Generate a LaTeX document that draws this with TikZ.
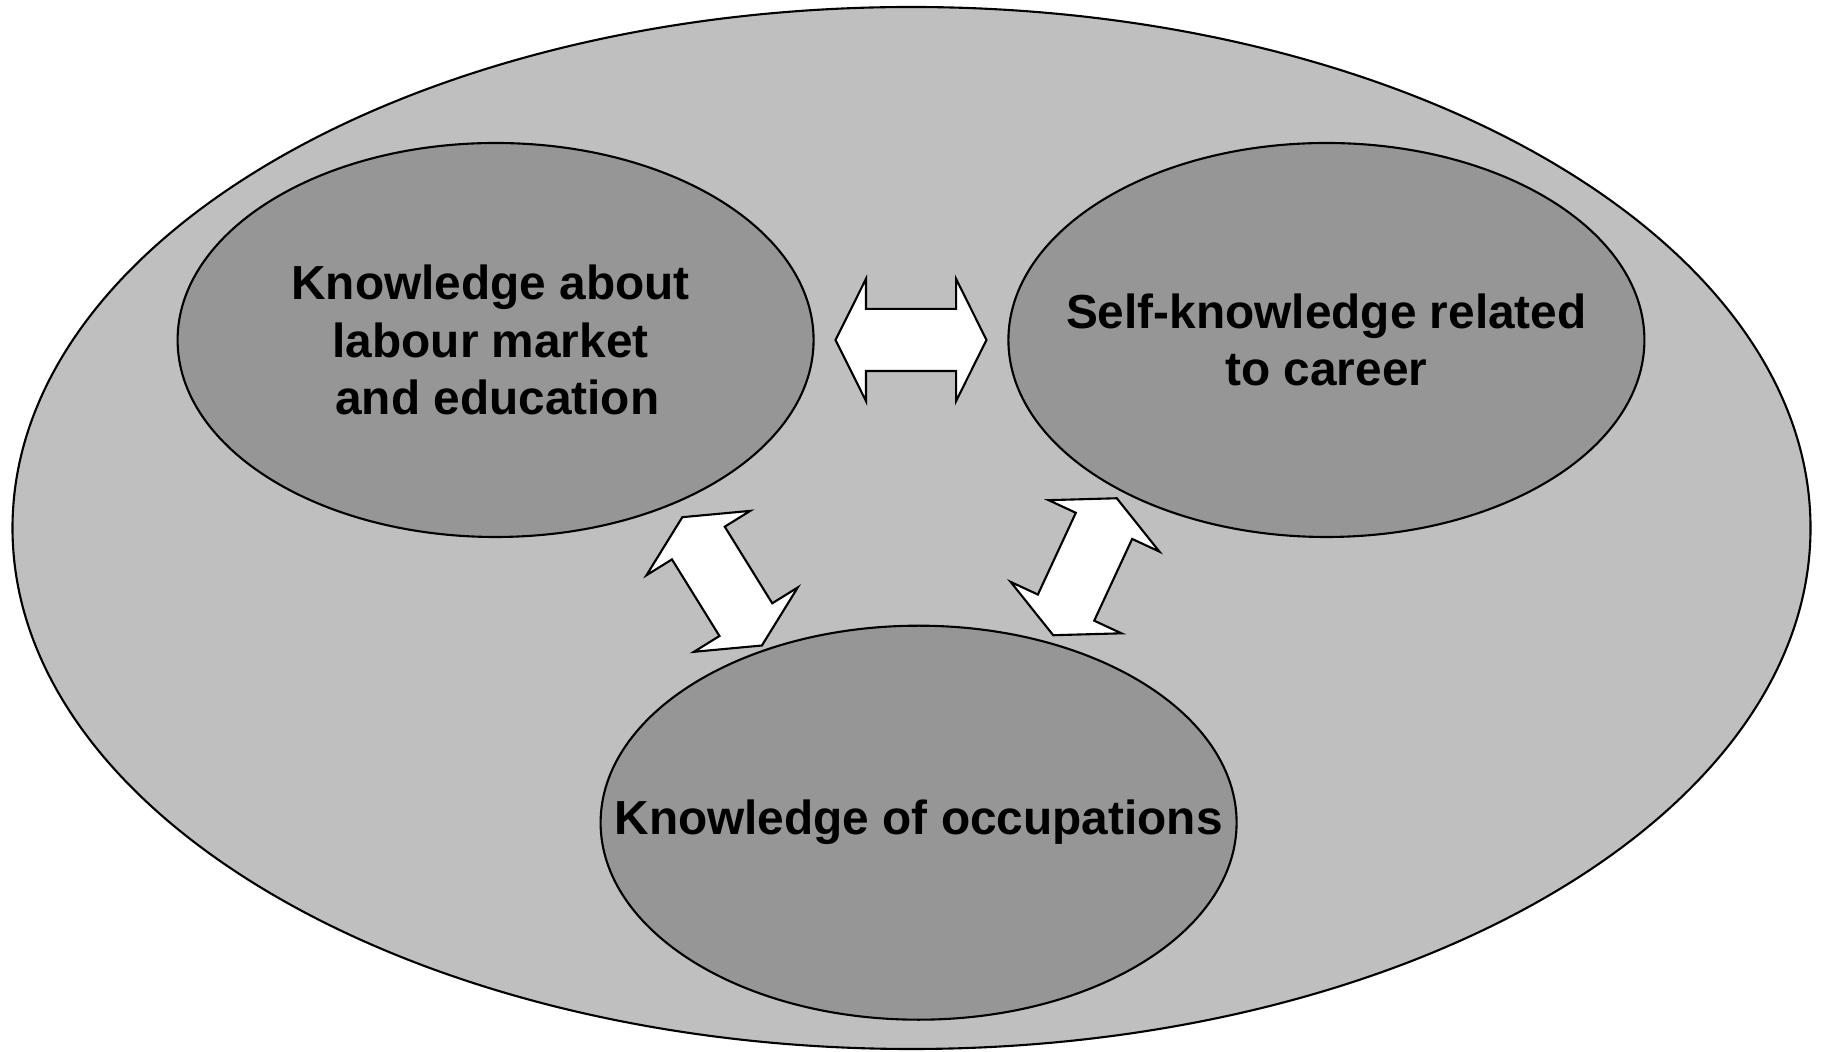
\documentclass[tikz,border=0pt]{standalone}
\usepackage{fontspec}
\setmainfont{Liberation Sans}
\usetikzlibrary{shapes,calc}
\definecolor{outergray}{gray}{0.75}
\definecolor{innergray}{gray}{0.59}
\tikzstyle{whole} = [ellipse, draw, fill=outergray, line width=0.6pt,
    minimum width=17.98cm, minimum height=10.42cm, inner sep=0pt]
\tikzstyle{topic} = [ellipse, draw, fill=innergray, line width=0.6pt,
    minimum width=6.36cm, minimum height=3.94cm, inner sep=0pt]
\tikzstyle{topictext} = [align=center, inner sep=0pt,
    font=\fontsize{13.6}{16.3}\selectfont\bfseries]
\tikzstyle{link} = [double arrow, draw, fill=white, line width=0.6pt,
    minimum height=1.51cm, minimum width=1.2cm, inner xsep=0pt, inner ysep=0.3cm,
    double arrow head extend=0.3cm, double arrow tip angle=127]

\begin{document}
\begin{tikzpicture}
  \useasboundingbox (0,0) rectangle (18.22,10.51);
  \node[whole] (all) at (9.115,5.23) {};
  \node[topic] (lm) at (4.956,7.11)
    [label={[topictext,xshift=-0.05cm]center:Knowledge about\\labour market\\\hspace*{0.28em}and education}] {};
  \node[topic] (sk) at (13.264,7.11)
    [label={[topictext]center:Self-knowledge related\\to career}] {};
  \node[topic] (occ) at (9.186,2.283)
    [label={[topictext]center:Knowledge of occupations}] {};

  \node[link] (lmsk) at ($(lm)!0.5!(sk)$) {};
  \node[link,rotate=121.8] (lmocc) at ($(lm)!0.5!(occ)+(0.15,0)$) {};
  \node[link,rotate=65.1] (skocc) at ($(sk)!0.5!(occ)+(-0.375,0.146)$) {};
\end{tikzpicture}
\end{document}
